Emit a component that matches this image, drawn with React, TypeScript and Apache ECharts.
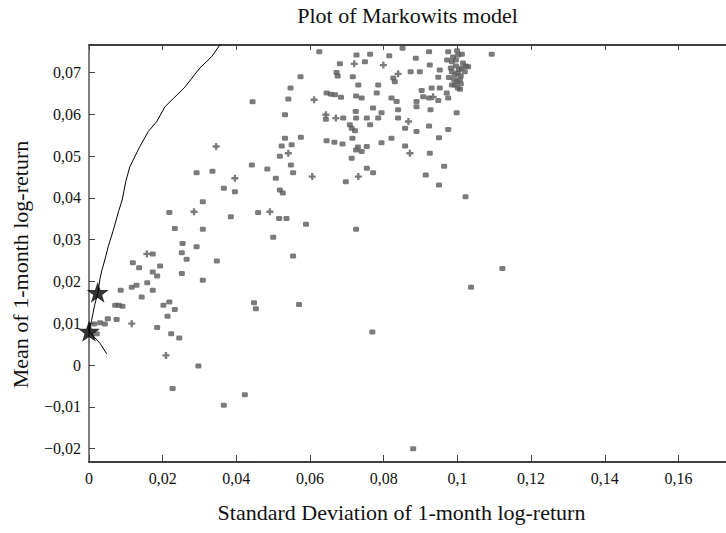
import React, { useEffect, useRef } from "react";
import * as echarts from "echarts";

// Axis extents (data units)
const xMin = 0;
const xMax = 0.1729;
const yMin = -0.0232;
const yMax = 0.0766;

const titleText = "Plot of Markowits model";
const xName = "Standard Deviation of 1-month log-return";
const yName = "Mean of 1-month log-return";

// Efficient frontier curve [std, mean]
const frontier: [number, number][] = [
  [0.0048, 0.0027], [0.0030, 0.0052], [0.0012, 0.0069], [0.0, 0.0082],
  [0.0007, 0.0107], [0.0015, 0.0142], [0.0024, 0.0173], [0.0030, 0.0207],
  [0.0035, 0.0227], [0.0039, 0.0239], [0.0046, 0.0262], [0.0052, 0.0283],
  [0.0066, 0.0323], [0.0080, 0.0367], [0.0090, 0.0395], [0.0100, 0.0440],
  [0.0111, 0.0475], [0.0138, 0.0523], [0.0161, 0.0559], [0.0184, 0.0583],
  [0.0206, 0.0618], [0.0229, 0.0638], [0.0261, 0.0666], [0.0301, 0.0711],
  [0.0333, 0.0738], [0.0355, 0.0766], [0.0365, 0.0780],
];

// Highlighted portfolios (stars)
const starPoints: [number, number][] = [
  [0.0, 0.0081],
  [0.00236, 0.0174],
];

// Individual assets drawn as small squares
const squarePoints: [number, number][] = [
  [0.0292, 0.0460], [0.0335, 0.0464], [0.0366, 0.0423], [0.0396, 0.0415],
  [0.0442, 0.0479], [0.0484, 0.0469], [0.0507, 0.0447], [0.0518, 0.0419],
  [0.0526, 0.0412], [0.0548, 0.0479], [0.0554, 0.0460], [0.0697, 0.0439],
  [0.0218, 0.0365], [0.0309, 0.0391], [0.0233, 0.0327], [0.0309, 0.0325],
  [0.0254, 0.0291], [0.0252, 0.0269], [0.0265, 0.0253], [0.0292, 0.0283],
  [0.0252, 0.0219], [0.0309, 0.0203], [0.0347, 0.0249], [0.0385, 0.0355],
  [0.0459, 0.0365], [0.0516, 0.0351], [0.0536, 0.0351], [0.0500, 0.0306],
  [0.0589, 0.0337], [0.0554, 0.0261], [0.0725, 0.0325], [0.0173, 0.0266],
  [0.0119, 0.0245], [0.0136, 0.0233], [0.0193, 0.0237], [0.0173, 0.0223],
  [0.0185, 0.0213], [0.0158, 0.0197], [0.0173, 0.0179], [0.0086, 0.0179],
  [0.0116, 0.0186], [0.0129, 0.0191], [0.0143, 0.0163], [0.0071, 0.0143],
  [0.0081, 0.0143], [0.0091, 0.0141], [0.0202, 0.0143], [0.0218, 0.0151],
  [0.0233, 0.0133], [0.0213, 0.0117], [0.0051, 0.0111], [0.0075, 0.0109],
  [0.0030, 0.0101], [0.0043, 0.0098], [0.0014, 0.0098], [0.0021, 0.0075],
  [0.0185, 0.0090], [0.0223, 0.0075], [0.0245, 0.0065], [0.0297, -0.0002],
  [0.0227, -0.0056], [0.0366, -0.0096], [0.0423, -0.0071], [0.0448, 0.0149],
  [0.0453, 0.0135], [0.0570, 0.0145], [0.1122, 0.0231], [0.1037, 0.0186],
  [0.0769, 0.0079], [0.0880, -0.0200],
  [0.0749, 0.0726], [0.0763, 0.0744], [0.0815, 0.0740], [0.0851, 0.0758],
  [0.0887, 0.0734], [0.0923, 0.0750], [0.0925, 0.0718], [0.0975, 0.0750],
  [0.0972, 0.0730], [0.1002, 0.0742], [0.1029, 0.0714], [0.1093, 0.0744],
  [0.0952, 0.0706], [0.0948, 0.0689], [0.0930, 0.0663], [0.0952, 0.0663],
  [0.0971, 0.0651], [0.0975, 0.0639], [0.1007, 0.0660], [0.0903, 0.0657],
  [0.0907, 0.0642], [0.0923, 0.0639], [0.0948, 0.0633], [0.0889, 0.0631],
  [0.0889, 0.0618], [0.0873, 0.0702], [0.0898, 0.0702], [0.0826, 0.0687],
  [0.0830, 0.0678], [0.0785, 0.0670], [0.0781, 0.0651], [0.0821, 0.0639],
  [0.0835, 0.0631], [0.0839, 0.0611], [0.0771, 0.0615], [0.0794, 0.0604],
  [0.0754, 0.0591], [0.0763, 0.0575], [0.0785, 0.0591], [0.0740, 0.0639],
  [0.0839, 0.0591], [0.0858, 0.0567], [0.0889, 0.0559], [0.0927, 0.0611],
  [0.0998, 0.0604], [0.0923, 0.0572], [0.0975, 0.0564], [0.0950, 0.0544],
  [0.0754, 0.0523], [0.0740, 0.0511], [0.0794, 0.0532], [0.0821, 0.0543],
  [0.0858, 0.0524], [0.0925, 0.0507], [0.0771, 0.0460], [0.0754, 0.0471],
  [0.0914, 0.0455], [0.0964, 0.0476], [0.0950, 0.0431], [0.1022, 0.0403],
  [0.0625, 0.0750], [0.0726, 0.0742], [0.0681, 0.0721], [0.0574, 0.0690],
  [0.0672, 0.0700], [0.0675, 0.0692], [0.0716, 0.0690], [0.0547, 0.0663],
  [0.0541, 0.0637], [0.0444, 0.0630], [0.0645, 0.0651], [0.0657, 0.0648],
  [0.0668, 0.0647], [0.0684, 0.0641], [0.0731, 0.0670], [0.0725, 0.0644],
  [0.0532, 0.0599], [0.0643, 0.0588], [0.0690, 0.0591], [0.0724, 0.0607],
  [0.0725, 0.0591], [0.0708, 0.0575], [0.0713, 0.0567], [0.0722, 0.0561],
  [0.0532, 0.0543], [0.0523, 0.0524], [0.0550, 0.0527], [0.0575, 0.0545],
  [0.0645, 0.0537], [0.0666, 0.0533], [0.0688, 0.0529], [0.0715, 0.0543],
  [0.0725, 0.0515], [0.0518, 0.0500], [0.0730, 0.0522], [0.0713, 0.0495],
  [0.0985, 0.0726], [0.0996, 0.0716], [0.1004, 0.0707], [0.0985, 0.0702],
  [0.0993, 0.0694], [0.1001, 0.0699], [0.1009, 0.0692], [0.0977, 0.0688],
  [0.0991, 0.0683], [0.0999, 0.0678], [0.1007, 0.0683], [0.1012, 0.0711],
  [0.0982, 0.0711], [0.0996, 0.0730], [0.1015, 0.0723], [0.1020, 0.0702],
  [0.0993, 0.0670], [0.1001, 0.0663], [0.1009, 0.0673], [0.0999, 0.0752],
  [0.1012, 0.0744], [0.0988, 0.0737], [0.1023, 0.0716], [0.0985, 0.0670],
];

// Individual assets drawn as small plus signs
const plusPoints: [number, number][] = [
  [0.0345, 0.0523], [0.0396, 0.0447], [0.0606, 0.0451], [0.0731, 0.0451],
  [0.0285, 0.0367], [0.0491, 0.0367], [0.0157, 0.0266], [0.0116, 0.0099],
  [0.0209, 0.0023], [0.0799, 0.0718], [0.0934, 0.0642], [0.0839, 0.0697],
  [0.0867, 0.0583], [0.0871, 0.0507], [0.0720, 0.0721], [0.0611, 0.0635],
  [0.0643, 0.0599], [0.0670, 0.0591], [0.0541, 0.0507],
];

const FONT = "Liberation Serif";
const STAR =
  "path://M12,0 L14.9,8.3 L23.4,8.3 L16.6,13.5 L19.1,21.7 L12,16.8 L4.9,21.7 L7.4,13.5 L0.6,8.3 L9.1,8.3 Z";
const PLUS = "path://M2,0H4V2H6V4H4V6H2V4H0V2H2Z";

function fmt(v: number): string {
  const k = Math.round(v * 100);
  if (Math.abs(v * 100 - k) > 1e-6) return "";
  if (k === 0) return "0";
  let s = String(+(k / 100).toFixed(2)).replace(".", ",");
  if (s.startsWith("-")) s = "\u2212" + s.slice(1);
  return s;
}

export default function App() {
  const ref = useRef<HTMLDivElement>(null);
  useEffect(() => {
    if (!ref.current) return;
    const chart = echarts.init(ref.current, undefined, { renderer: "svg" });
    const axisLabel = { fontFamily: FONT, fontSize: 16, color: "#111" };
    const nameStyle = { fontFamily: FONT, fontSize: 22, fill: "#111", textAlign: "center", textVerticalAlign: "middle" };
    chart.setOption({
      animation: false,
      backgroundColor: "#fff",
      textStyle: { fontFamily: FONT },
      grid: { left: 89, right: 0, top: 45, bottom: 71, containLabel: false },
      graphic: [
        { type: "text", x: 407.5, y: 15, style: { ...nameStyle, text: titleText } },
        { type: "text", x: 401.5, y: 512, style: { ...nameStyle, text: xName } },
        { type: "text", x: 20, y: 264.5, rotation: Math.PI / 2, style: { ...nameStyle, text: yName } },
      ],
      xAxis: [
        {
          type: "value", position: "bottom", min: xMin, max: xMax, splitNumber: 9,
          axisLine: { show: true, onZero: false, lineStyle: { color: "#000", width: 1.5 } },
          axisTick: { show: true, inside: true, length: 7, lineStyle: { color: "#444" } },
          axisLabel: { ...axisLabel, margin: 8, formatter: fmt, showMinLabel: true, showMaxLabel: false },
          splitLine: { show: false },
        },
        {
          type: "value", position: "top", min: xMin, max: xMax, splitNumber: 9,
          axisLine: { show: true, onZero: false, lineStyle: { color: "#000", width: 1.5 } },
          axisTick: { show: true, inside: true, length: 5, lineStyle: { color: "#444" } },
          axisLabel: { show: false },
          splitLine: { show: false },
        },
      ],
      yAxis: {
        type: "value", min: yMin, max: yMax, splitNumber: 10,
        axisLine: { show: true, onZero: false, lineStyle: { color: "#555", width: 1.5 } },
        axisTick: { show: true, inside: true, length: 6, lineStyle: { color: "#444" } },
        axisLabel: { ...axisLabel, margin: 8, formatter: fmt, showMinLabel: false, showMaxLabel: false },
        splitLine: { show: false },
      },
      series: [
        {
          type: "scatter", xAxisIndex: 0, data: squarePoints,
          symbol: "roundRect", symbolSize: [6, 5],
          itemStyle: { color: "#5a5a5a" },
        },
        {
          type: "scatter", xAxisIndex: 0, data: plusPoints,
          symbol: PLUS, symbolSize: 7,
          itemStyle: { color: "#5a5a5a" },
        },
        {
          type: "line", xAxisIndex: 0, data: frontier, showSymbol: false,
          smooth: false, clip: true,
          lineStyle: { color: "#000", width: 1 },
        },
        {
          type: "scatter", xAxisIndex: 0, data: starPoints,
          symbol: STAR, symbolSize: 22, symbolKeepAspect: true,
          itemStyle: { color: "#000" }, z: 5,
        },
      ],
    });
    return () => chart.dispose();
  }, []);
  return (
    <div
      ref={ref}
      style={{ position: "fixed", left: 0, top: 0, width: 726, height: 533, background: "#fff" }}
    />
  );
}
